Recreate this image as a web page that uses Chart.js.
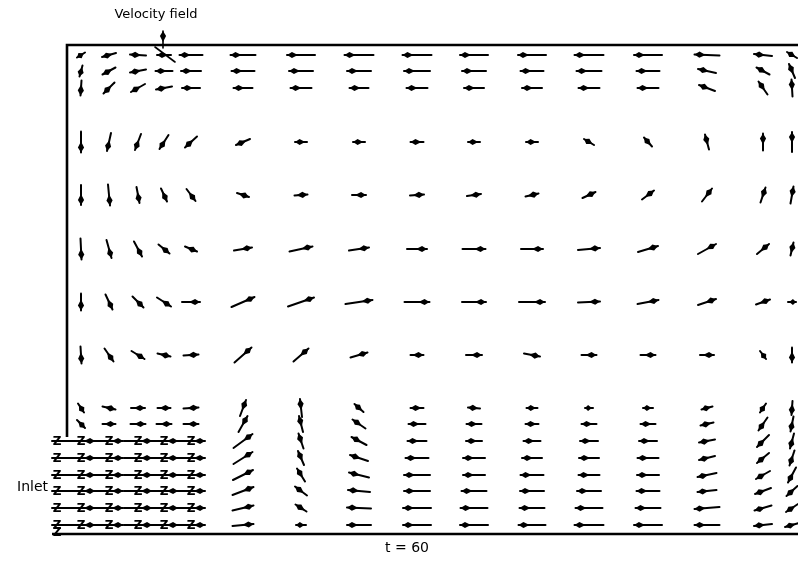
<!DOCTYPE html>
<html>
<head>
<meta charset="utf-8">
<script src="https://cdn.jsdelivr.net/npm/chart.js@4"></script>
<style>
  html, body { margin: 0; padding: 0; background: #fff; overflow: hidden; width: 798px; height: 571px; }
  canvas { display: block; }
</style>
</head>
<body>
<canvas id="c" width="820" height="571"></canvas>
<script>
// Grid node positions of the cavity (origin at the lower-left corner, units of length)
const colX = [1.4, 4.2, 7.1, 9.7, 12.4, 17.6, 23.4, 29.2, 35.0, 40.7, 46.5, 52.2, 58.1, 64.0, 69.6, 72.5];
const rowY = [47.9, 46.3, 44.6, 39.2, 33.9, 28.5, 23.2, 17.9, 12.6, 11.0, 9.3, 7.6, 5.9, 4.3, 2.6, 0.9];

// Horizontal velocity component, one row per rowY entry (top to bottom)
const U = [
  [-0.8, -1.4, -1.6, -1.4, -2.3, -2.5, -2.8, -2.9, -2.9, -2.8, -2.8, -2.9, -2.8, -2.5, -1.8, -1.0],
  [-0.3, -1.3, -1.6, -1.7, -2.0, -2.3, -2.4, -2.4, -2.6, -2.4, -2.3, -2.5, -2.3, -1.8, -1.3, -0.6],
  [-0.1, -1.1, -1.4, -1.6, -1.8, -1.9, -2.1, -1.9, -2.1, -2.0, -2.0, -2.1, -2.1, -1.6, -0.9, -0.1],
  [ 0.0, -0.4, -0.6, -0.9, -1.2, -1.4, -1.2, -1.2, -1.3, -1.2, -1.2, -1.0, -0.8, -0.4,  0.0,  0.0],
  [ 0.0,  0.2,  0.3,  0.6,  0.9,  1.2,  1.3,  1.4,  1.4,  1.4,  1.3,  1.3,  1.2,  1.0,  0.5,  0.3],
  [ 0.1,  0.5,  0.8,  1.1,  1.2,  1.8,  2.3,  2.0,  2.0,  2.3,  2.2,  2.2,  2.0,  1.8,  1.2,  0.3],
  [ 0.0,  0.7,  1.1,  1.4,  1.8,  2.3,  2.6,  2.7,  2.5,  2.4,  2.6,  2.2,  2.1,  1.8,  1.4,  0.8],
  [ 0.1,  0.9,  1.3,  1.3,  1.5,  1.7,  1.5,  1.7,  1.3,  1.6,  1.6,  1.5,  1.5,  1.4,  0.6,  0.0],
  [ 0.6,  1.3,  1.4,  1.3,  1.5,  0.6, -0.2, -0.9, -1.3, -1.2, -1.1, -0.8, -1.0, -1.1, -0.6, -0.1],
  [ 0.8,  1.3,  1.5,  1.5,  1.5,  0.9, -0.4, -1.3, -1.7, -1.5, -1.3, -1.5, -1.5, -1.3, -0.9, -0.3],
  [ 2.8,  2.8,  2.8,  2.8,  2.8,  1.9, -0.5, -1.5, -1.9, -1.6, -1.7, -1.8, -1.8, -1.6, -1.2, -0.4],
  [ 2.8,  2.8,  2.8,  2.8,  2.8,  1.9, -0.6, -1.8, -2.3, -2.2, -2.0, -2.0, -2.1, -1.6, -1.2, -0.5],
  [ 2.8,  2.8,  2.8,  2.8,  2.8,  2.0, -0.8, -2.0, -2.6, -2.2, -2.3, -2.1, -2.2, -1.9, -1.4, -0.8],
  [ 2.8,  2.8,  2.8,  2.8,  2.8,  2.1, -1.2, -2.2, -2.6, -2.5, -2.4, -2.4, -2.3, -1.9, -1.6, -1.1],
  [ 2.8,  2.8,  2.8,  2.8,  2.8,  2.1, -1.1, -2.4, -2.8, -2.7, -2.5, -2.7, -2.5, -2.5, -1.7, -1.2],
  [ 2.8,  2.8,  2.8,  2.8,  2.8,  2.1, -1.0, -2.4, -2.8, -2.8, -2.7, -2.9, -2.8, -2.5, -1.8, -1.4]
];

// Vertical velocity component (positive = upward)
const V = [
  [-0.5, -0.4,  0.1,  0.0,  0.0,  0.0,  0.0,  0.0,  0.0,  0.0,  0.0,  0.0,  0.0,  0.1,  0.2,  0.6],
  [-1.1, -0.7, -0.3,  0.0,  0.0,  0.0,  0.0,  0.0,  0.0,  0.0,  0.0,  0.0,  0.0,  0.4,  0.7,  1.4],
  [-1.5, -1.1, -0.8, -0.3,  0.0,  0.0,  0.0,  0.0,  0.0,  0.0,  0.0,  0.0,  0.0,  0.6,  1.3,  1.7],
  [-2.1, -1.8, -1.6, -1.4, -1.1, -0.6,  0.0,  0.0,  0.0,  0.0,  0.0,  0.6,  0.9,  1.5,  1.7,  2.0],
  [-2.0, -2.1, -1.6, -1.3, -1.2, -0.4,  0.1,  0.0,  0.1,  0.2,  0.3,  0.6,  0.9,  1.3,  1.5,  1.7],
  [-2.1, -1.8, -1.5, -0.9, -0.5,  0.3,  0.5,  0.3,  0.0,  0.0,  0.0,  0.2,  0.6,  1.0,  1.0,  1.3],
  [-1.7, -1.5, -1.1, -0.9,  0.0,  1.0,  0.9,  0.4,  0.0,  0.0,  0.0,  0.1,  0.4,  0.6,  0.5,  0.0],
  [-1.7, -1.3, -0.8, -0.3,  0.1,  1.5,  1.3,  0.5,  0.0,  0.0, -0.3,  0.0,  0.0,  0.0, -0.8, -1.5],
  [-0.9, -0.3,  0.0,  0.0,  0.1,  1.6,  1.8,  0.8,  0.0,  0.1,  0.0,  0.0,  0.0, -0.3, -0.9, -1.4],
  [-0.8,  0.0,  0.0,  0.0,  0.0,  1.6,  1.6,  0.9,  0.0,  0.0,  0.0,  0.0,  0.0, -0.3, -1.3, -1.5],
  [ 0.0,  0.0,  0.0,  0.0,  0.0,  1.4,  1.5,  0.8,  0.0,  0.0,  0.0,  0.0,  0.0, -0.3, -1.2, -1.5],
  [ 0.0,  0.0,  0.0,  0.0,  0.0,  1.2,  1.4,  0.6,  0.0,  0.0,  0.0,  0.0,  0.0, -0.4, -1.0, -1.5],
  [ 0.0,  0.0,  0.0,  0.0,  0.0,  1.0,  1.3,  0.5,  0.0,  0.0,  0.0,  0.0,  0.0, -0.4, -0.8, -1.5],
  [ 0.0,  0.0,  0.0,  0.0,  0.0,  0.8,  0.9,  0.2,  0.0,  0.0,  0.0,  0.0,  0.0, -0.2, -0.6, -1.0],
  [ 0.0,  0.0,  0.0,  0.0,  0.0,  0.5,  0.7,  0.1,  0.0,  0.0,  0.0,  0.0,  0.0, -0.2, -0.5, -0.8],
  [ 0.0,  0.0,  0.0,  0.0,  0.0,  0.2,  0.0,  0.0,  0.0,  0.0,  0.0,  0.0,  0.0,  0.0, -0.2, -0.4]
];

// Inlet: rows and columns of nodes fed by the incoming jet, plus the inflow boundary column
const inletRows = [10, 11, 12, 13, 14, 15];
const inletCols = [0, 1, 2, 3, 4];
const inflowX = -1.0;

// Cavity outline
const cavityW = 74.0, cavityH = 48.9, inletTop = 9.7;
const wallTopLeft = [{x: 0, y: inletTop}, {x: 0, y: cavityH}, {x: cavityW, y: cavityH}];
const wallBottom = [{x: -1.5, y: 0}, {x: cavityW, y: 0}];

const titleText = 'Velocity field';
const inletText = 'Inlet';
const timeText = 't = 60';

function drawArrow(ctx, x0, y0, x1, y1) {
  const dx = x1 - x0, dy = y1 - y0;
  const len = Math.hypot(dx, dy);
  if (len < 1) return;
  const ux = dx / len, uy = dy / len;
  const nx = -uy, ny = ux;
  ctx.beginPath();
  ctx.moveTo(x0, y0);
  ctx.lineTo(x1, y1);
  ctx.stroke();
  const hl = Math.min(11, len * 0.85);
  const hw = 3.1;
  const mx = x1 - ux * hl * 0.45, my = y1 - uy * hl * 0.45;
  ctx.beginPath();
  ctx.moveTo(x1, y1);
  ctx.lineTo(mx + nx * hw, my + ny * hw);
  ctx.lineTo(x1 - ux * hl, y1 - uy * hl);
  ctx.lineTo(mx - nx * hw, my - ny * hw);
  ctx.closePath();
  ctx.fill();
}

const vectorField = {
  id: 'vectorField',
  afterDatasetsDraw(chart) {
    const { ctx } = chart;
    const sx = chart.scales.x, sy = chart.scales.y;
    const px = v => sx.getPixelForValue(v);
    const py = v => sy.getPixelForValue(v);
    ctx.save();
    ctx.strokeStyle = '#000';
    ctx.fillStyle = '#000';
    ctx.lineWidth = 2;
    ctx.lineCap = 'round';
    ctx.lineJoin = 'round';

    // inflow boundary segments leading into the first column
    inletRows.forEach(r => {
      ctx.beginPath();
      ctx.moveTo(px(inflowX - 0.5), py(rowY[r]));
      ctx.lineTo(px(colX[0] - U[r][0] / 2), py(rowY[r]));
      ctx.stroke();
    });

    rowY.forEach((yy, r) => {
      colX.forEach((xx, c) => {
        const u = U[r][c], v = V[r][c];
        drawArrow(ctx, px(xx - u / 2), py(yy - v / 2), px(xx + u / 2), py(yy + v / 2));
      });
    });

    // node markers of the inlet jet
    ctx.font = 'bold 12px "DejaVu Sans", sans-serif';
    ctx.textAlign = 'center';
    ctx.textBaseline = 'middle';
    inletRows.forEach(r => {
      ctx.fillText('Z', px(inflowX), py(rowY[r]) + 1);
      inletCols.forEach(c => ctx.fillText('Z', px(colX[c]), py(rowY[r]) + 1));
    });
    ctx.fillText('Z', px(inflowX), py(0.2) + 1);

    // labels
    ctx.font = '13px "DejaVu Sans", sans-serif';
    ctx.fillText(titleText, px(8.9), py(51.9));
    ctx.font = '14px "DejaVu Sans", sans-serif';
    ctx.textAlign = 'right';
    ctx.fillText(inletText, px(-1.9), py(4.7));
    ctx.textAlign = 'center';
    ctx.fillText(timeText, px(34.0), py(-1.4));

    // leader from the label to the field
    ctx.lineWidth = 1.6;
    ctx.beginPath();
    ctx.moveTo(px(8.8), py(48.7));
    ctx.lineTo(px(10.8), py(47.2));
    ctx.stroke();
    drawArrow(ctx, px(9.6), py(48.6), px(9.6), py(50.3));
    ctx.restore();
  }
};

new Chart(document.getElementById('c'), {
  type: 'scatter',
  data: {
    datasets: [
      { data: wallTopLeft, showLine: true, borderColor: '#000', borderWidth: 2.6, pointRadius: 0, clip: false, tension: 0 },
      { data: wallBottom, showLine: true, borderColor: '#000', borderWidth: 2.6, pointRadius: 0, clip: false, tension: 0 }
    ]
  },
  options: {
    responsive: false,
    animation: false,
    devicePixelRatio: 1,
    layout: { padding: { left: 52, right: 13, top: 45, bottom: 37 } },
    scales: {
      x: { type: 'linear', min: -1.5, max: cavityW, display: false },
      y: { type: 'linear', min: 0, max: cavityH, display: false }
    },
    plugins: { legend: { display: false }, tooltip: { enabled: false } }
  },
  plugins: [vectorField]
});
</script>
</body>
</html>
